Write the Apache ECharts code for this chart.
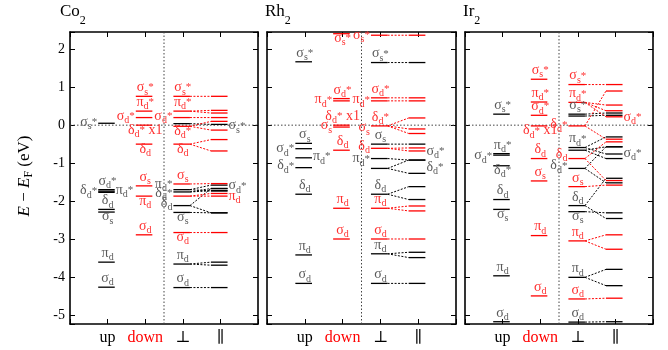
<!DOCTYPE html>
<html><head><meta charset="utf-8">
<script src="https://cdn.jsdelivr.net/npm/echarts@6/dist/echarts.min.js"></script>
<style>html,body{margin:0;padding:0;background:#fff}#c{width:668px;height:350px}</style>
</head><body><div id="c"></div>
<script>
// ================= DATA =================
const columnLabels = ['up', 'down', '⊥', '∥'];
const yTickValues = [-5, -4, -3, -2, -1, 0, 1, 2];
const panelTitles = [['Co', '2'], ['Rh', '2'], ['Ir', '2']];

// ---- Co2 ----
const coUp = [0.05, -1.70, -1.74, -1.77, -2.22, -2.29, -3.61, -4.27];
const coDown = [0.76, 0.37, 0.20, 0.00, -0.50, -1.60, -1.87, -2.89];
// each entry: [E at ⊥, E at ∥ levels it maps to ...]
const coPerpUp = [[0.04, 0.02], [-1.70, -1.58, -1.73], [-1.76, -1.67, -1.73], [-2.12, -1.67, -2.31], [-2.30, -2.31], [-3.66, -3.61, -3.69], [-4.28, -4.28]];
const coPerpDown = [[0.76, 0.76], [0.37, 0.39, 0.32], [0.20, 0.20], [-0.03, 0.10, -0.13], [-0.50, -0.38, -0.68], [-1.55, -1.54], [-1.87, -1.80, -1.87], [-2.83, -2.83]];
const coLabUp = [[1, 0.05, 'σ_s*', 'L'], [1, -1.70, 'σ_d*', 'A'], [1, -1.76, 'δ_d*', 'L'], [1, -1.74, 'π_d*', 'R'], [1, -2.22, 'δ_d', 'A'], [1, -2.29, 'σ_s', 'B'], [1, -3.61, 'π_d', 'A'], [1, -4.27, 'σ_d', 'A'],
  [4, -0.05, 'σ_s*', 'R'], [3, -1.58, 'π_d*', 'L'], [3, -1.82, 'δ_d*', 'L'], [3, -2.08, 'δ_d', 'L'], [3, -2.30, 'σ_s', 'B'], [3, -3.66, 'π_d', 'A'], [3, -4.28, 'σ_d', 'A'], [4, -1.63, 'σ_d*', 'R']];
const coLabDown = [[2, 0.76, 'σ_s*', 'A'], [2, 0.37, 'π_d*', 'A'], [2, 0.20, 'σ_d*', 'L'], [2, 0.00, 'δ_d* x1', 'B'], [2, -0.50, 'δ_d', 'B'], [2, -1.60, 'σ_s', 'A'], [2, -1.87, 'π_d', 'B'], [2, -2.89, 'σ_d', 'A'],
  [3, 0.76, 'σ_s*', 'A'], [3, 0.37, 'π_d*', 'A'], [3, 0.20, 'σ_d*', 'L'], [3, -0.03, 'δ_d*', 'B'], [3, -0.50, 'δ_d', 'B'], [3, -1.55, 'σ_s', 'A'], [3, -2.83, 'σ_d', 'B'], [4, -1.90, 'π_d', 'R']];

// ---- Rh2 ----
const rhUp = [1.67, -0.48, -0.62, -0.86, -1.12, -1.82, -3.42, -4.17];
const rhDown = [2.41, 0.70, 0.64, 0.00, -0.05, -0.66, -2.19, -3.00];
const rhPerpUp = [[1.65, 1.65], [-0.50, -0.50], [-0.88, -0.92], [-1.14, -0.92, -1.27], [-1.82, -1.62, -1.96], [-3.39, -3.35, -3.49], [-4.17, -4.17]];
const rhPerpDown = [[2.37, 2.37], [0.72, 0.72], [0.64, 0.64], [-0.02, 0.19, -0.10, -0.22], [-0.61, -0.60, -0.68], [-2.19, -2.13, -2.26], [-3.00, -3.00]];
const rhLabUp = [[1, 1.67, 'σ_s*', 'A'], [1, -0.48, 'σ_s', 'A'], [1, -0.65, 'σ_d*', 'L'], [1, -0.86, 'π_d*', 'R'], [1, -1.10, 'δ_d*', 'L'], [1, -1.82, 'δ_d', 'A'], [1, -3.42, 'π_d', 'A'], [1, -4.17, 'σ_d', 'A'],
  [3, 1.65, 'σ_s*', 'A'], [3, -0.50, 'σ_s', 'A'], [3, -0.92, 'π_d*', 'L'], [3, -1.82, 'δ_d', 'A'], [3, -3.39, 'π_d', 'A'], [3, -4.17, 'σ_d', 'A'], [4, -0.72, 'σ_d*', 'R'], [4, -1.14, 'δ_d*', 'R']];
const rhLabDown = [[2, 2.41, 'σ_s*', 'B'], [2, 0.70, 'σ_d*', 'A'], [2, 0.64, 'π_d*', 'L'], [2, 0.00, 'δ_d* x1', 'A'], [2, -0.05, 'σ_s', 'L'], [2, -0.66, 'δ_d', 'A'], [2, -2.19, 'π_d', 'A'], [2, -3.00, 'σ_d', 'A'],
  [3, 2.33, 'σ_s*', 'L'], [3, 0.72, 'σ_d*', 'A'], [3, 0.64, 'π_d*', 'L'], [3, -0.02, 'δ_d*', 'A'], [3, -0.10, 'σ_s', 'L'], [3, -0.58, 'δ_d', 'L'], [3, -2.19, 'π_d', 'A'], [3, -3.00, 'σ_d', 'A']];

// ---- Ir2 ----
const irUp = [0.29, -0.75, -0.79, -1.07, -1.96, -2.22, -3.97, -5.18];
const irDown = [1.21, 0.61, 0.26, -0.02, -0.88, -1.47, -2.91, -4.50];
const irPerpUp = [[0.29, 0.32], [0.24, 0.26], [-0.59, -0.31, -0.76], [-0.66, -0.57, -0.88], [-1.14, -0.57, -1.52], [-2.12, -1.40, -2.46], [-2.28, -2.31], [-4.01, -3.80, -4.23], [-5.19, -5.18]];
const irPerpDown = [[1.07, 1.07], [0.60, 0.53, 0.38, 0.22], [-0.02, 0.90, -0.37], [-0.88, -0.44, -1.46], [-1.62, -1.58], [-3.05, -2.89, -3.27], [-4.58, -4.56]];
const irLabUp = [[1, 0.29, 'σ_s*', 'A'], [1, -0.75, 'π_d*', 'A'], [1, -0.84, 'σ_d*', 'L'], [1, -1.07, 'δ_d*', 'B'], [1, -1.96, 'δ_d', 'A'], [1, -2.22, 'σ_s', 'B'], [1, -3.97, 'π_d', 'A'], [1, -5.18, 'σ_d', 'A'],
  [3, 0.29, 'σ_s*', 'A'], [3, -0.59, 'π_d*', 'A'], [3, -1.10, 'δ_d*', 'L'], [3, -2.12, 'δ_d', 'A'], [3, -2.28, 'σ_s', 'B'], [3, -4.01, 'π_d', 'A'], [3, -5.19, 'σ_d', 'A'], [4, -0.78, 'σ_d*', 'R']];
const irLabDown = [[2, 1.21, 'σ_s*', 'A'], [2, 0.61, 'π_d*', 'A'], [2, 0.26, 'σ_d*', 'A'], [2, -0.02, 'δ_d* x1', 'B'], [2, -0.88, 'δ_d', 'A'], [2, -1.47, 'σ_s', 'A'], [2, -2.91, 'π_d', 'A'], [2, -4.50, 'σ_d', 'A'],
  [3, 1.07, 'σ_s*', 'A'], [3, 0.60, 'π_d*', 'A'], [3, -0.02, 'δ_d*', 'L'], [3, -0.80, 'δ_d', 'L'], [3, -1.62, 'σ_s', 'A'], [3, -3.05, 'π_d', 'A'], [3, -4.58, 'σ_d', 'A'], [4, 0.18, 'σ_d*', 'R']];

// ================= LAYOUT / STYLE =================
const FAM = "'Liberation Serif','DejaVu Serif',serif";
const BLACK = '#000', GRAY = '#5a5a5a', RED = '#ff0000', LRED = '#ff3030';
const HW = 0.22, OFF = -0.03;
const FS_MAIN = 14, FS_SUB = 10, FS_STAR = 11;
const YMIN = -5.24, YMAX = 2.455;
const GRIDS = [{left: 70, top: 32, width: 188, height: 292}, {left: 267, top: 32, width: 189, height: 292}, {left: 465, top: 32, width: 188, height: 292}];
const TITLE_X = [60, 265, 463];

const mctx = document.createElement('canvas').getContext('2d');
function fnt(fs, st) { return (st ? st + ' ' : '') + fs + 'px ' + FAM; }
function tw(t, fs, st) { mctx.font = fnt(fs, st); return mctx.measureText(t).width; }
function mid(b, fs) { return b - 0.34 * fs; }
function T(text, x, b, fs, color, st) {
  return {type: 'text', x: x, y: mid(b, fs), silent: true,
    style: {text: text, font: fnt(fs, st), fill: color, align: 'left', verticalAlign: 'middle'}};
}
function buildLabel(txt, place, X, Y, xl, xr, color) {
  let main = txt[0], rest = txt.slice(1), sub = '', star = '', suf = '';
  if (rest[0] === '_') { sub = rest[1]; rest = rest.slice(2); }
  if (rest[0] === '*') { star = '*'; rest = rest.slice(1); }
  suf = rest;
  const wM = tw(main, FS_MAIN), wS = sub ? tw(sub, FS_SUB) : 0, wT = star ? tw('*', FS_STAR) : 0, wX = suf ? tw(suf, FS_MAIN) : 0;
  const W = wM + wS + wT + wX;
  let x0, b;
  if (place === 'A') { x0 = X - W / 2; b = Y - 4; }
  else if (place === 'B') { x0 = X - W / 2; b = Y + 9.5; }
  else if (place === 'L') { x0 = xl - 1 - W; b = Y + 3.5; }
  else { x0 = xr + 1; b = Y + 3.5; }
  const ch = [];
  let x = x0;
  ch.push(T(main, x, b, FS_MAIN, color)); x += wM;
  if (sub) { ch.push(T(sub, x, b + 3, FS_SUB, color)); x += wS; }
  if (star) { ch.push(T('*', x, b - 1, FS_STAR, color)); x += wT; }
  if (suf) { ch.push(T(suf, x, b, FS_MAIN, color)); }
  return {type: 'group', children: ch};
}

const panels = [
  {up: coUp, down: coDown, perpUp: coPerpUp, perpDown: coPerpDown, labUp: coLabUp, labDown: coLabDown},
  {up: rhUp, down: rhDown, perpUp: rhPerpUp, perpDown: rhPerpDown, labUp: rhLabUp, labDown: rhLabDown},
  {up: irUp, down: irDown, perpUp: irPerpUp, perpDown: irPerpDown, labUp: irLabUp, labDown: irLabDown}
];

// level data items: [kind, col, e1, e2]  kind 0 = level line, kind 1 = connector ⊥→∥
function levelData(list, col, perp) {
  const d = list.map(e => [0, col, e, 0]);
  perp.forEach(row => {
    const p = row[0];
    d.push([0, 3, p, 0]);
    row.slice(1).forEach(q => { d.push([0, 4, q, 0]); d.push([1, 3, p, q]); });
  });
  return d;
}
function levelRender(color) {
  return function (params, api) {
    const kind = api.value(0), col = api.value(1), e1 = api.value(2), e2 = api.value(3);
    if (kind === 0) {
      const a = api.coord([col + OFF - HW, e1]), b = api.coord([col + OFF + HW, e1]);
      return {type: 'line', shape: {x1: a[0], y1: a[1], x2: b[0], y2: b[1]}, style: {stroke: color, lineWidth: 1.3}};
    }
    const a = api.coord([3 + OFF + HW, e1]), b = api.coord([4 + OFF - HW, e2]);
    return {type: 'line', shape: {x1: a[0], y1: a[1], x2: b[0], y2: b[1]}, style: {stroke: color, lineWidth: 1, lineDash: [2, 1.5]}};
  };
}
function labelRender(list, color) {
  return function (params, api) {
    const it = list[params.dataIndex];
    const c = api.coord([it[0], it[1]]);
    const xl = api.coord([it[0] + OFF - HW, it[1]])[0], xr = api.coord([it[0] + OFF + HW, it[1]])[0];
    return buildLabel(it[2], it[3], c[0], c[1], xl, xr, color);
  };
}

const xAxes = [], yAxes = [], series = [];
const axisLine = {show: true, onZero: false, lineStyle: {color: '#000', width: 1.6}};
const axisTick = {show: true, inside: true, length: 5, lineStyle: {color: '#000', width: 1}};
GRIDS.forEach((g, i) => {
  ['bottom', 'top'].forEach(pos => xAxes.push({
    type: 'value', gridIndex: i, position: pos, min: 0, max: 5, interval: 1,
    axisLine: axisLine, axisTick: axisTick, splitLine: {show: false},
    axisLabel: {show: pos === 'bottom', margin: 6, fontFamily: FAM, fontSize: 16, color: '#000',
      formatter: v => { const k = Math.round(v); if (k < 1 || k > 4) return ''; return k === 2 ? '{r|' + columnLabels[1] + '}' : columnLabels[k - 1]; },
      rich: {r: {color: RED, fontFamily: FAM, fontSize: 16}}}
  }));
  ['left', 'right'].forEach(pos => yAxes.push({
    type: 'value', gridIndex: i, position: pos, min: YMIN, max: YMAX, splitNumber: 8, minInterval: 1, maxInterval: 1,
    axisLine: axisLine, axisTick: axisTick, splitLine: {show: false},
    axisLabel: {show: i === 0 && pos === 'left', margin: 5, fontFamily: FAM, fontSize: 14, color: '#000',
      formatter: v => { const k = Math.round(v); return (Math.abs(v - k) < 1e-6 && yTickValues.indexOf(k) >= 0) ? String(k) : ''; }}
  }));
  const P = panels[i];
  const ax = {xAxisIndex: 2 * i, yAxisIndex: 2 * i, silent: true, animation: false};
  series.push(Object.assign({type: 'custom', data: [[2.5, 0]], renderItem: function (params, api) {
    const cs = params.coordSys;
    const y0 = api.coord([0, 0])[1], xv = api.coord([2.5, 0])[0];
    const st = {stroke: '#444', lineWidth: 1, lineDash: [1.5, 2]};
    return {type: 'group', children: [
      {type: 'line', shape: {x1: cs.x, y1: y0, x2: cs.x + cs.width, y2: y0}, style: st},
      {type: 'line', shape: {x1: xv, y1: cs.y, x2: xv, y2: cs.y + cs.height}, style: st}]};
  }}, ax));
  series.push(Object.assign({type: 'custom', data: levelData(P.up, 1, P.perpUp), renderItem: levelRender(BLACK)}, ax));
  series.push(Object.assign({type: 'custom', data: levelData(P.down, 2, P.perpDown), renderItem: levelRender(RED)}, ax));
  series.push(Object.assign({type: 'custom', data: P.labUp.map(r => [r[0], r[1]]), renderItem: labelRender(P.labUp, GRAY)}, ax));
  series.push(Object.assign({type: 'custom', data: P.labDown.map(r => [r[0], r[1]]), renderItem: labelRender(P.labDown, LRED)}, ax));
});

// titles and y-axis name
const graphic = [];
panelTitles.forEach((t, i) => {
  const x = TITLE_X[i];
  graphic.push(T(t[0], x, 17, 17, '#000'));
  graphic.push(T(t[1], x + tw(t[0], 17), 24.5, 12, '#000'));
});
(function () {
  const parts = [['E', 17, 'italic', 0], [' − ', 17, '', 0], ['E', 17, 'italic', 0], ['F', 12, '', 3], [' (eV)', 17, '', 0]];
  let W = 0; parts.forEach(p => { p.push(W); W += tw(p[0], p[1], p[2]); });
  graphic.push({type: 'group', x: 30, y: 176 + W / 2, rotation: Math.PI / 2,
    children: parts.map(p => T(p[0], p[4], p[3], p[1], '#000', p[2]))});
})();

const chart = echarts.init(document.getElementById('c'), null, {renderer: 'canvas'});
chart.setOption({
  animation: false,
  grid: GRIDS.map(g => Object.assign({containLabel: false}, g)),
  xAxis: xAxes, yAxis: yAxes, series: series, graphic: graphic
});
</script></body></html>
